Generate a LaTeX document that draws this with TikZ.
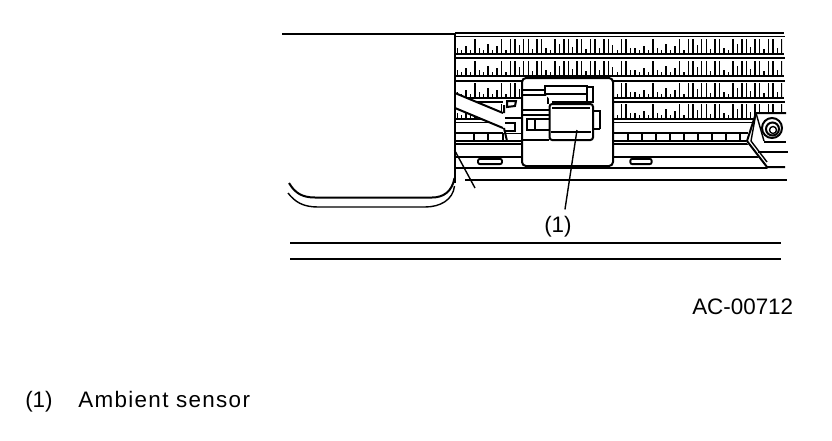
\documentclass[tikz,border=0pt]{standalone}
\usepackage{fontspec}
\setmainfont{Liberation Sans}
\usetikzlibrary{calc}
\begin{document}
\begin{tikzpicture}[x=0.75pt,y=-0.75pt,
  thin line/.style={line width=1.05pt,black},
  hair/.style={line width=0.8pt,black},
  heavy/.style={line width=1.5pt,black},
  railline/.style={line width=1.25pt,black},
  fin/.style={line width=1.05pt,black},
  lbl/.style={inner sep=0pt,anchor=base west,font=\fontsize{16.8pt}{20pt}\selectfont}]
\useasboundingbox (0,0) rectangle (832,440);
\fill[white] (0,0) rectangle (832,440);
% radiator rows
\foreach \yy in {33,54,76,98,119}{\draw[railline] (455,\yy) -- (784,\yy);}
\foreach \yy in {36.5,58,81,102,122.5}{\draw[railline] (455,\yy) -- (785,\yy);}
% fins
\begin{scope}
\clip (457,30) rectangle (782,125);
\foreach \yy in {54,76,98,119}{
  \foreach \hh [count=\i from 0] in {6,4,8,4,15,6,4,10,4,8,15,4,15,15,9,15,15,5,15,15,6,4,15,10,15,15,7,15,15,5,15,15,6,15,15,9,4,15,15,6}{
    \foreach \kk in {0,1}{
      \pgfmathsetmacro{\xx}{457+(\i+40*\kk)*4.45}
      \draw[fin] (\xx,\yy) -- (\xx,\yy-\hh);
    }
  }
}
\end{scope}
% lower strip
\draw[thin line] (455,133) -- (748,133);
\draw[railline] (455,141) -- (748,141);
\draw[railline] (455,144) -- (748,144);
\foreach \xx in {474,488,503,628,642,656,670,684,698,712,726,740}{\draw[thin line] (\xx,133) -- (\xx,141);}
\draw[heavy] (455,157) -- (776,157);
\draw[hair] (455,168) -- (785,168);
\draw[heavy] (465,180) -- (787,180);
\node (slotA) [draw,line width=1.4pt,rounded corners=1.5pt,minimum width=18pt,minimum height=4pt,inner sep=0pt] at (490,161.5) {};
\node (slotB) [draw,line width=1.4pt,rounded corners=1.5pt,minimum width=16pt,minimum height=4pt,inner sep=0pt] at (641,161.5) {};
% hoses and clip
\fill[white] (455,93) -- (503,113) -- (503,128) -- (455,108) -- cycle;
\fill[white] (503,100) rectangle (522,133);
\draw[heavy] (455,93) -- (503,113);
\draw[heavy] (455,108) -- (503,128);
\draw[heavy] (504,105) -- (504,113) (504,128) -- (507,141);
\draw[heavy] (507,101) -- (516,101) -- (515,106) -- (507,107) -- cycle;
\draw[heavy] (505,123) -- (515,123) -- (515,131) -- (505,131);
\draw[thin line] (505,118) -- (522,118);
% sensor plate
\draw[heavy,fill=white,rounded corners=3pt] (522,78) rectangle (613,166);
\draw[heavy] (522,90) -- (522,140) -- (549,140);
\draw[heavy] (522,90) -- (545,90);
\draw[heavy] (522,95) -- (548,95) -- (548,104);
\draw[heavy] (522,110) -- (549,110);
\draw[heavy] (522,115) -- (549,115);
\draw[heavy,fill=white] (549,119) -- (527,119) -- (527,130) -- (549,130);
\draw[thin line] (535,119) -- (535,130);
\draw[heavy,fill=white] (545,94) -- (545,86) -- (587,86) -- (587,102) -- (552,102);
\draw[heavy] (587,87) -- (593,87) -- (593,102) -- (587,102);
\draw[heavy] (545,94) -- (587,94);
\draw[heavy] (600,129) -- (593,129);
\draw[heavy] (593,111) -- (600,111) -- (600,129);
\draw[heavy,fill=white,rounded corners=2pt] (549.5,104) rectangle (593,140);
\draw[thin line] (552,108) -- (590,108);
\draw[heavy] (551,132) -- (591,132);
% nut and bracket
\fill[white] (756,112) -- (786,112) -- (786,143) -- (788,170) -- (768,169) -- (746,142) -- cycle;
\draw[heavy] (786,113) -- (756,113) -- (747,141) -- (767,167) -- (785,167);
\draw[thin line] (756,113) -- (751,141) -- (767,162);
\draw[thin line] (756,113) -- (764,141);
\draw[heavy] (764,142) -- (786,142);
\draw[heavy] (758,152) -- (788,152);
\draw[heavy] (772,128) circle[radius=10];
\draw[heavy] (772.5,129) circle[radius=6.5];
\draw[thin line] (773,130) circle[radius=3.5];
% left panel
\draw[heavy] (282,34) -- (455,34);
\draw[heavy] (454.5,33) -- (454.5,183);
\draw[heavy] (289,183) .. controls (295,193) and (302,197.5) .. (315,197.5) -- (432,197.5) .. controls (443,197.5) and (452,192) .. (454.5,178);
\draw[thin line] (288,193) .. controls (295,202) and (303,207) .. (318,207) -- (425,207) .. controls (440,207) and (453,200) .. (454.5,186);
\coordinate (leadA) at (454.5,150);
\coordinate (leadB) at (475,188);
\draw[thin line] (leadA) -- (leadB);
% bottom lines
\draw[heavy] (290,243) -- (781,243);
\draw[heavy] (290,259) -- (781,259);
% texts
\node[lbl] (one) at (544,232) {(1)};
\coordinate (tip) at (577,130);
\draw[thin line] (tip) -- ($(one.north)+(7,-6)$);
\node[lbl] (code) at (692,314) {AC-00712};
\node[lbl] (oneb) at (25,407) {(1)};
\node[lbl] (amb) at (78,407) {\addfontfeature{LetterSpace=6}Ambient sensor};
\end{tikzpicture}
\end{document}
